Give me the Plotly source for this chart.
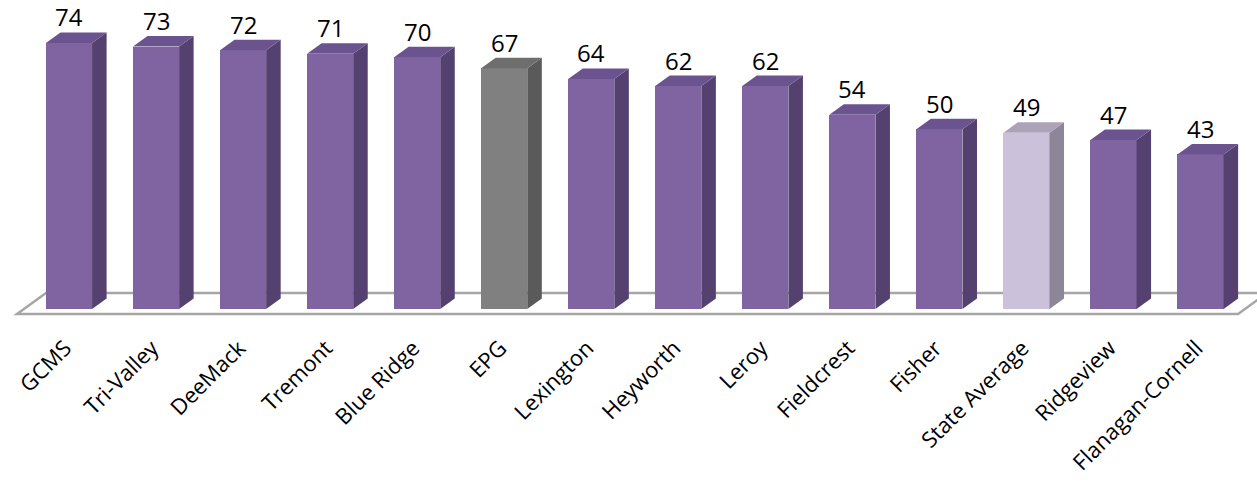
import plotly.graph_objects as go

# ---- data ----
categories = ["GCMS", "Tri-Valley", "DeeMack", "Tremont", "Blue Ridge", "EPG",
              "Lexington", "Heyworth", "Leroy", "Fieldcrest", "Fisher",
              "State Average", "Ridgeview", "Flanagan-Cornell"]
values = [74, 73, 72, 71, 70, 67, 64, 62, 62, 54, 50, 49, 47, 43]
groups = ["school", "school", "school", "school", "school", "epg",
          "school", "school", "school", "school", "school",
          "state", "school", "school"]

# ---- style ----
palette = {
    "school": {"front": "#8064A2", "side": "#54416F", "top": "#6B5390"},
    "epg":    {"front": "#808080", "side": "#5A5A5A", "top": "#6E6E6E"},
    "state":  {"front": "#CCC1DA", "side": "#8D8699", "top": "#ACA3BA"},
}
FONT = "Open Sans"
W, H = 1257, 482
half_w = 0.265          # half bar width (category units)
dx, dy = 0.167, 2.92    # 3D depth offset (x units, y units)

n = len(categories)
xs = list(range(n))
y_top, y_bot = 85.95, -2.5
x_lo, x_hi = -0.7927, 13.649

fig = go.Figure()

# front faces
fig.add_trace(go.Bar(
    x=xs, y=values, width=2 * half_w,
    marker=dict(color=[palette[g]["front"] for g in groups], line=dict(width=0)),
    hoverinfo="skip", showlegend=False,
))

# side and top faces, computed from the values
for i, (v, g) in enumerate(zip(values, groups)):
    c = palette[g]
    sx = [i + half_w, i + half_w + dx, i + half_w + dx, i + half_w, i + half_w]
    sy = [0, dy, v + dy, v, 0]
    fig.add_trace(go.Scatter(x=sx, y=sy, mode="lines", fill="toself",
                             fillcolor=c["side"], line=dict(width=0, color=c["side"]),
                             hoverinfo="skip", showlegend=False))
    tx = [i - half_w, i - half_w + dx, i + half_w + dx, i + half_w, i - half_w]
    ty = [v, v + dy, v + dy, v, v]
    fig.add_trace(go.Scatter(x=tx, y=ty, mode="lines", fill="toself",
                             fillcolor=c["top"], line=dict(width=0, color=c["top"]),
                             hoverinfo="skip", showlegend=False))

# value labels
for i, v in enumerate(values):
    fig.add_annotation(x=i, y=v + dy, text=str(v), showarrow=False,
                       yanchor="bottom", xanchor="center", yshift=-3,
                       font=dict(family=FONT, size=24, color="#000000"))

# floor (3D category plane), drawn beneath the bars
f_front = -1.39
f_back = 4.45
fl_left = -0.597
fl_right = (n - 1) + half_w + dx
fdx = 0.333
floor_path = (f"M {fl_left},{f_front} L {fl_right},{f_front} "
              f"L {fl_right + fdx},{f_back} L {fl_left + fdx},{f_back} Z")
fig.add_shape(type="path", path=floor_path, xref="x", yref="y", layer="below",
              fillcolor="white", line=dict(color="#A6A6A6", width=2.5))

fig.update_layout(
    width=W, height=H,
    margin=dict(l=0, r=0, t=0, b=164),
    paper_bgcolor="white", plot_bgcolor="white",
    bargap=0, showlegend=False,
    xaxis=dict(range=[x_lo, x_hi], tickvals=xs, ticktext=categories,
               tickangle=-45, showgrid=False, zeroline=False, showline=False,
               automargin=False, ticklabelstandoff=12, ticklabelshift=-4,
               ticks="", tickfont=dict(family=FONT, size=22, color="#000000")),
    yaxis=dict(range=[y_bot, y_top], visible=False, showgrid=False,
               zeroline=False, automargin=False),
)

fig.write_html("out.html", config={"displayModeBar": False},
               post_script="document.body.style.margin='0';document.body.style.overflow='hidden';")
